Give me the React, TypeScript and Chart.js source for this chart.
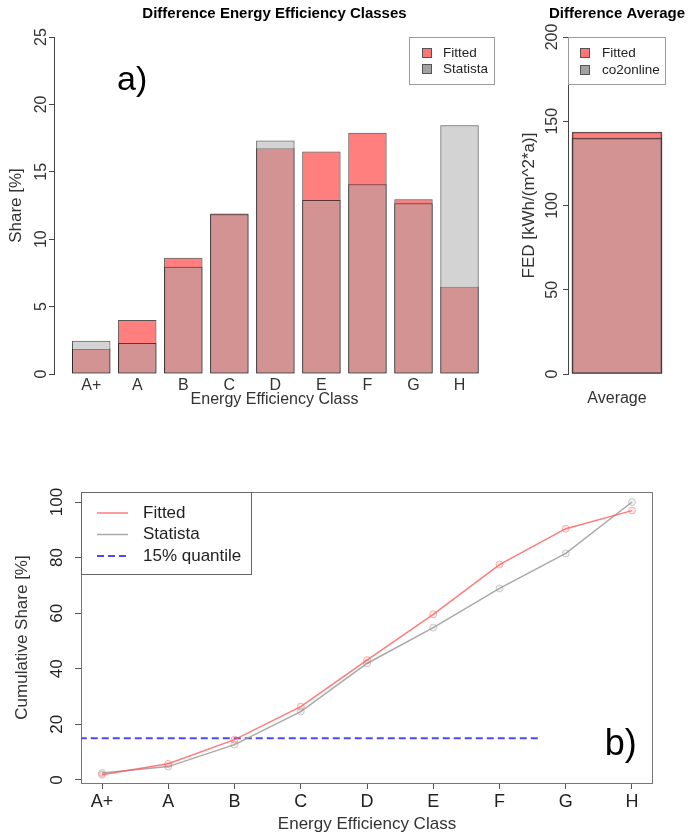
import React, { useEffect, useRef } from 'react';
import { Chart, registerables } from 'chart.js';

Chart.register(...registerables);

const FONT = '"Liberation Sans", Arial, Helvetica, sans-serif';
Chart.defaults.font.family = FONT;

// ---- data ----
const classes = ['A+', 'A', 'B', 'C', 'D', 'E', 'F', 'G', 'H'];
const fittedShare = [1.85, 4.0, 8.63, 11.9, 16.74, 16.5, 17.9, 12.96, 6.48];
const statistaShare = [2.47, 2.3, 7.96, 11.85, 17.33, 12.9, 14.07, 12.66, 18.45];
const shareTicks = [0, 5, 10, 15, 20, 25];

const averageLabels = ['Average'];
const fittedAverage = [143.6];
const co2onlineAverage = [140];
const fedTicks = [0, 50, 100, 150, 200];

const fittedCumulative = [1.9, 5.8, 14.5, 26.4, 43.1, 59.6, 77.5, 90.4, 96.9];
const statistaCumulative = [2.5, 4.8, 12.7, 24.6, 41.9, 54.8, 68.9, 81.5, 100];
const cumulativeTicks = [0, 20, 40, 60, 80, 100];
const quantileLevel = 15;
const quantileSpan = [-1, 6.6];

// ---- plugins ----
const boxLegendPlugin = {
  id: 'boxLegend',
  afterDraw(chart: any, _args: any, opts: any) {
    if (!opts || !opts.width) return;
    const { ctx, chartArea } = chart;
    const x0 = opts.anchor === 'right' ? chartArea.right - opts.width : chartArea.left;
    const y0 = chartArea.top;
    ctx.save();
    ctx.fillStyle = '#fff';
    ctx.fillRect(x0, y0, opts.width, opts.height);
    ctx.strokeStyle = opts.borderColor;
    ctx.lineWidth = 1;
    ctx.strokeRect(x0 + 0.5, y0 + 0.5, opts.width - 1, opts.height - 1);
    const isBar = chart.config.type === 'bar';
    chart.data.datasets.forEach((ds: any, i: number) => {
      const cy = y0 + opts.firstRow + i * opts.rowGap;
      if (isBar) {
        const s = opts.swatchW;
        ctx.fillStyle = ds.legendFill || ds.backgroundColor;
        ctx.fillRect(x0 + opts.swatchX, cy - s / 2, s, s);
        ctx.strokeStyle = '#555';
        ctx.lineWidth = 1;
        ctx.strokeRect(x0 + opts.swatchX + 0.5, cy - s / 2 + 0.5, s - 1, s - 1);
      } else {
        ctx.strokeStyle = ds.borderColor;
        ctx.lineWidth = ds.borderWidth || 1;
        ctx.setLineDash(ds.borderDash || []);
        ctx.beginPath();
        ctx.moveTo(x0 + opts.swatchX, cy);
        ctx.lineTo(x0 + opts.swatchX + opts.swatchW, cy);
        ctx.stroke();
        ctx.setLineDash([]);
      }
      ctx.fillStyle = '#222';
      ctx.font = `${opts.fontSize}px ${FONT}`;
      ctx.textAlign = 'left';
      ctx.textBaseline = 'middle';
      ctx.fillText(ds.label, x0 + opts.textX, cy);
    });
    ctx.restore();
  },
};

const panelTagPlugin = {
  id: 'panelTag',
  afterDatasetsDraw(chart: any, _args: any, opts: any) {
    if (!opts || !opts.text) return;
    const { ctx } = chart;
    const x = chart.scales.x.getPixelForValue(opts.xValue);
    const y = chart.scales.y.getPixelForValue(opts.yValue);
    ctx.save();
    ctx.font = `${opts.size}px ${FONT}`;
    ctx.fillStyle = '#000';
    ctx.textAlign = 'left';
    ctx.textBaseline = 'middle';
    ctx.fillText(opts.text, x, y);
    ctx.restore();
  },
};

const framePlugin = {
  id: 'frame',
  beforeDatasetsDraw(chart: any, _args: any, opts: any) {
    if (!opts || !opts.color) return;
    const { ctx, chartArea: a } = chart;
    ctx.save();
    ctx.strokeStyle = opts.color;
    ctx.lineWidth = 1;
    ctx.strokeRect(Math.round(a.left) + 0.5, Math.round(a.top) + 0.5, Math.round(a.right - a.left) - 1, Math.round(a.bottom - a.top));
    ctx.restore();
  },
};

const fixedTicks = (values: number[]) => (scale: any) => {
  scale.ticks = values.map((v) => ({ value: v }));
};

// ---- configs ----
function configA(): any {
  return {
    type: 'bar',
    data: {
      datasets: [
        {
          label: 'Fitted',
          data: classes.map((_, i) => ({ x: i, y: fittedShare[i] })),
          backgroundColor: 'rgba(255,0,0,0.5)',
          legendFill: 'rgba(255,0,0,0.55)',
          borderColor: 'rgba(30,30,30,0.75)',
          borderWidth: 1,
          borderSkipped: false,
          grouped: false,
          order: 2,
          barPercentage: 0.835,
          categoryPercentage: 1,
        },
        {
          label: 'Statista',
          data: classes.map((_, i) => ({ x: i, y: statistaShare[i] })),
          backgroundColor: 'rgba(167,167,167,0.5)',
          legendFill: 'rgba(100,100,100,0.6)',
          borderColor: 'rgba(30,30,30,0.75)',
          borderWidth: 1,
          borderSkipped: false,
          grouped: false,
          order: 1,
          barPercentage: 0.835,
          categoryPercentage: 1,
        },
      ],
    },
    options: {
      responsive: false,
      animation: false,
      events: [],
      layout: { padding: { left: 0, right: 5, top: 0, bottom: 0 } },
      plugins: {
        legend: { display: false },
        tooltip: { enabled: false },
        title: {
          display: true,
          text: 'Difference Energy Efficiency Classes',
          color: '#000',
          font: { family: FONT, size: 15, weight: 'bold' },
          padding: { top: 5, bottom: 14 },
          fullSize: false,
        },
        boxLegend: { anchor: 'right', width: 86, height: 48, firstRow: 16, rowGap: 16, swatchX: 13, swatchW: 10, textX: 34, fontSize: 13.5, borderColor: '#9a9a9a' },
        panelTag: { text: 'a)', xValue: 0.56, yValue: 21.8, size: 34 },
      },
      scales: {
        x: {
          type: 'linear',
          offset: false,
          min: -0.809,
          max: 8.771,
          afterBuildTicks: fixedTicks(classes.map((_, i) => i)),
          grid: { display: false, drawTicks: false, offset: false },
          border: { display: false },
          ticks: { callback: (v: any) => classes[v] ?? '', font: { size: 16 }, color: '#333', padding: 2, maxRotation: 0, autoSkip: false },
          title: { display: true, text: 'Energy Efficiency Class', color: '#333', font: { size: 16 }, padding: { top: 0, bottom: 11 } },
          afterFit: (s: any) => { s.height = 46; },
        },
        y: {
          min: 0,
          max: 25,
          afterBuildTicks: fixedTicks(shareTicks),
          grid: { drawOnChartArea: false, drawTicks: true, tickLength: 5, color: '#444' },
          border: { display: true, color: '#444' },
          ticks: { minRotation: 90, maxRotation: 90, crossAlign: 'center', padding: -1, font: { size: 16 }, color: '#333' },
          title: { display: true, text: 'Share [%]', color: '#333', font: { size: 17 }, padding: { top: 6, bottom: 0 } },
          afterFit: (s: any) => { s.width = 54; },
        },
      },
    },
    plugins: [boxLegendPlugin, panelTagPlugin],
  };
}

function configB(): any {
  return {
    type: 'bar',
    data: {
      datasets: [
        {
          label: 'Fitted',
          data: averageLabels.map((_, i) => ({ x: i, y: fittedAverage[i] })),
          backgroundColor: 'rgba(255,0,0,0.5)',
          legendFill: 'rgba(255,0,0,0.55)',
          borderColor: 'rgba(30,30,30,0.75)',
          borderWidth: 1,
          borderSkipped: false,
          grouped: false,
          order: 2,
          barThickness: 90,
        },
        {
          label: 'co2online',
          data: averageLabels.map((_, i) => ({ x: i, y: co2onlineAverage[i] })),
          backgroundColor: 'rgba(167,167,167,0.5)',
          legendFill: 'rgba(100,100,100,0.6)',
          borderColor: 'rgba(30,30,30,0.75)',
          borderWidth: 1,
          borderSkipped: false,
          grouped: false,
          order: 1,
          barThickness: 90,
        },
      ],
    },
    options: {
      responsive: false,
      animation: false,
      events: [],
      layout: { padding: 0 },
      plugins: {
        legend: { display: false },
        tooltip: { enabled: false },
        title: {
          display: true,
          text: 'Difference Average',
          color: '#000',
          font: { family: FONT, size: 15, weight: 'bold' },
          padding: { top: 5, bottom: 14 },
        },
        boxLegend: { anchor: 'left', width: 98, height: 48, firstRow: 16, rowGap: 17, swatchX: 12, swatchW: 10, textX: 34, fontSize: 13.5, borderColor: '#9a9a9a' },
      },
      scales: {
        x: {
          type: 'linear',
          offset: false,
          min: -1,
          max: 1,
          afterBuildTicks: fixedTicks(averageLabels.map((_, i) => i)),
          grid: { display: false, drawTicks: false, offset: false },
          border: { display: false },
          ticks: { callback: (v: any) => averageLabels[v] ?? '', font: { size: 16 }, color: '#333', padding: 15, maxRotation: 0, autoSkip: false },
          afterFit: (s: any) => { s.height = 46; },
        },
        y: {
          min: 0,
          max: 200,
          afterBuildTicks: fixedTicks(fedTicks),
          grid: { drawOnChartArea: false, drawTicks: true, tickLength: 5, color: '#444' },
          border: { display: true, color: '#444' },
          ticks: { minRotation: 90, maxRotation: 90, crossAlign: 'center', padding: -3, font: { size: 16 }, color: '#333' },
          title: { display: true, text: 'FED [kWh/(m^2*a)]', color: '#333', font: { size: 17 }, padding: { top: 19, bottom: 0 } },
          afterFit: (s: any) => { s.width = 68; },
        },
        y2: {
          position: 'right',
          grid: { display: false, drawTicks: false },
          border: { display: false },
          ticks: { display: false },
          afterFit: (s: any) => { s.width = 68; },
        },
      },
    },
    plugins: [boxLegendPlugin],
  };
}

function configC(): any {
  return {
    type: 'line',
    data: {
      datasets: [
        {
          label: 'Fitted',
          data: classes.map((_, i) => ({ x: i, y: fittedCumulative[i] })),
          borderColor: 'rgba(255,90,90,0.8)',
          borderWidth: 1.5,
          pointRadius: 3.5,
          pointBorderWidth: 1,
          pointBorderColor: 'rgba(255,90,90,0.45)',
          pointBackgroundColor: 'rgba(255,90,90,0.12)',
          tension: 0,
        },
        {
          label: 'Statista',
          data: classes.map((_, i) => ({ x: i, y: statistaCumulative[i] })),
          borderColor: 'rgba(160,160,160,0.9)',
          borderWidth: 1.5,
          pointRadius: 3.5,
          pointBorderWidth: 1,
          pointBorderColor: 'rgba(150,150,150,0.45)',
          pointBackgroundColor: 'rgba(150,150,150,0.12)',
          tension: 0,
        },
        {
          label: '15% quantile',
          data: quantileSpan.map((x) => ({ x, y: quantileLevel })),
          borderColor: '#4b4bf5',
          borderWidth: 2,
          borderDash: [7, 4],
          pointRadius: 0,
          tension: 0,
        },
      ],
    },
    options: {
      responsive: false,
      animation: false,
      events: [],
      layout: { padding: { left: 0, right: 36, top: 22, bottom: 0 } },
      plugins: {
        legend: { display: false },
        tooltip: { enabled: false },
        frame: { color: '#777' },
        boxLegend: { anchor: 'left', width: 171, height: 83, firstRow: 21, rowGap: 21.5, swatchX: 16, swatchW: 31, textX: 62, fontSize: 17, borderColor: '#666' },
        panelTag: { text: 'b)', xValue: 7.59, yValue: 12.6, size: 36 },
      },
      scales: {
        x: {
          type: 'linear',
          min: -0.317,
          max: 8.317,
          afterBuildTicks: fixedTicks(classes.map((_, i) => i)),
          grid: { display: true, drawOnChartArea: false, drawTicks: true, tickLength: 6, color: '#555' },
          border: { display: false },
          ticks: { callback: (v: any) => classes[v] ?? '', font: { size: 18 }, color: '#222', padding: 2, maxRotation: 0, autoSkip: false },
          title: { display: true, text: 'Energy Efficiency Class', color: '#333', font: { size: 17 }, padding: { top: 0, bottom: 3 } },
          afterFit: (s: any) => { s.height = 55; },
        },
        y: {
          min: -1.1,
          max: 103.6,
          afterBuildTicks: fixedTicks(cumulativeTicks),
          grid: { drawOnChartArea: false, drawTicks: true, tickLength: 6, color: '#555' },
          border: { display: false },
          ticks: { minRotation: 90, maxRotation: 90, crossAlign: 'center', padding: 4, font: { size: 17 }, color: '#222' },
          title: { display: true, text: 'Cumulative Share [%]', color: '#333', font: { size: 17 }, padding: { top: 12, bottom: 0 } },
          afterFit: (s: any) => { s.width = 81; },
        },
      },
    },
    plugins: [framePlugin, boxLegendPlugin, panelTagPlugin],
  };
}

export default function App() {
  const aRef = useRef<HTMLCanvasElement>(null);
  const bRef = useRef<HTMLCanvasElement>(null);
  const cRef = useRef<HTMLCanvasElement>(null);

  useEffect(() => {
    const charts = [
      new Chart(aRef.current as HTMLCanvasElement, configA()),
      new Chart(bRef.current as HTMLCanvasElement, configB()),
      new Chart(cRef.current as HTMLCanvasElement, configC()),
    ];
    return () => charts.forEach((c) => c.destroy());
  }, []);

  return (
    <div style={{ position: 'absolute', left: 0, top: 0, width: 689, height: 838, overflow: 'hidden', background: '#fff' }}>
      <canvas ref={aRef} width={500} height={420} style={{ position: 'absolute', left: 0, top: 0, width: 500, height: 420 }} />
      <canvas ref={bRef} width={234} height={420} style={{ position: 'absolute', left: 500, top: 0, width: 234, height: 420 }} />
      <canvas ref={cRef} width={689} height={368} style={{ position: 'absolute', left: 0, top: 470, width: 689, height: 368 }} />
    </div>
  );
}
